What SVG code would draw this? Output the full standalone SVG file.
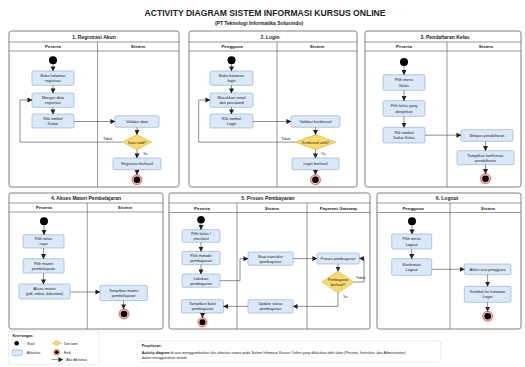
<svg xmlns="http://www.w3.org/2000/svg" width="525" height="367" viewBox="0 0 525 367">
<style>
text{font-family:"Liberation Sans",Arial,sans-serif;fill:#222}
.title{font-size:8.6px;font-weight:bold;text-anchor:middle}
.sub{font-size:5px;font-weight:bold;text-anchor:middle}
.ph{font-size:5px;font-weight:bold;text-anchor:middle}
.lh{font-size:4.4px;font-weight:bold;text-anchor:middle}
.t{font-size:3.9px;text-anchor:middle;fill:#222}
.lb{font-size:3.9px;fill:#222}
.panel{fill:#fff;stroke:#555;stroke-width:0.75}
.ln{stroke:#555;stroke-width:0.6;fill:none}
.box{fill:#dbe8f7;stroke:#86a9d3;stroke-width:0.6}
.dec{fill:#f8da6a;stroke:#cfac3c;stroke-width:0.6}
.st{fill:#000}
.endr{fill:#f6b9b9;stroke:#e05252;stroke-width:0.8}
.c{stroke:#333;stroke-width:0.55;fill:none;marker-end:url(#a)}
.note{fill:#fff;stroke:#c8c8c8;stroke-width:0.6;stroke-dasharray:1.2 0.8}
.sm{font-size:3.6px;fill:#222}
</style>
<defs>
<marker id="a" viewBox="0 0 6 6" refX="5.5" refY="3" markerWidth="5" markerHeight="5" markerUnits="userSpaceOnUse" orient="auto"><path d="M0,0 L6,3 L0,6 z" fill="#222"/></marker>
</defs>
<rect width="525" height="367" fill="#fff"/>
<text class="title" x="265" y="16">ACTIVITY DIAGRAM SISTEM INFORMASI KURSUS ONLINE</text>
<text class="sub" x="259" y="25">(PT Teknologi Informatika Solusindo)</text>

<!-- Panel 1 -->
<g id="panel1">
<rect class="panel" x="9" y="31" width="170" height="156" rx="2.5"/>
<line class="ln" x1="9" y1="42" x2="179" y2="42"/>
<line class="ln" x1="9" y1="51" x2="179" y2="51"/>
<line class="ln" x1="97.5" y1="42" x2="97.5" y2="187"/>
<text class="ph" x="94" y="38.5">1. Registrasi Akun</text>
<text class="lh" x="53" y="48.2">Peserta</text>
<text class="lh" x="138" y="48.2">Sistem</text>
</g>
<g id="p1-start"><circle class="st" cx="53" cy="60.3" r="4"/></g>
<g id="p1-buka"><rect class="box" x="32" y="71" width="42" height="14.3" rx="1.5"/><text class="t" x="53" y="77">Buka halaman</text><text class="t" x="53" y="82">registrasi</text></g>
<g id="p1-isi"><rect class="box" x="32" y="93" width="42" height="14.3" rx="1.5"/><text class="t" x="53" y="99">Mengisi data</text><text class="t" x="53" y="104">registrasi</text></g>
<g id="p1-klik"><rect class="box" x="32" y="114" width="42" height="14" rx="1.5"/><text class="t" x="53" y="120">Klik tombol</text><text class="t" x="53" y="125">Daftar</text></g>
<g id="p1-validasi"><rect class="box" x="115" y="115.7" width="44" height="11.6" rx="1.5"/><text class="t" x="137" y="122.8">Validasi data</text></g>
<g id="p1-dec"><polygon class="dec" points="137,134.6 151.5,142.1 137,149.6 122.5,142.1"/><text class="t" x="137" y="143.5" style="font-size:3.6px">Data valid?</text></g>
<g id="p1-ok"><rect class="box" x="113" y="158" width="48" height="11.7" rx="1.5"/><text class="t" x="137" y="165.2">Registrasi berhasil</text></g>
<g id="p1-end"><circle class="endr" cx="137" cy="179.7" r="5"/><circle class="st" cx="137" cy="179.7" r="3.3"/></g>

<!-- Panel 2 -->
<g id="panel2">
<rect class="panel" x="189" y="31" width="168" height="156" rx="2.5"/>
<line class="ln" x1="189" y1="42" x2="357" y2="42"/>
<line class="ln" x1="189" y1="51" x2="357" y2="51"/>
<line class="ln" x1="277" y1="42" x2="277" y2="187"/>
<text class="ph" x="270" y="38.5">2. Login</text>
<text class="lh" x="232" y="48.2">Pengguna</text>
<text class="lh" x="317" y="48.2">Sistem</text>
</g>
<g id="p2-start"><circle class="st" cx="231.5" cy="60.3" r="4"/></g>
<g id="p2-buka"><rect class="box" x="210" y="71" width="43" height="14.3" rx="1.5"/><text class="t" x="231.5" y="77">Buka halaman</text><text class="t" x="231.5" y="82">login</text></g>
<g id="p2-isi"><rect class="box" x="210" y="93" width="43" height="14.3" rx="1.5"/><text class="t" x="231.5" y="99">Masukkan email</text><text class="t" x="231.5" y="104">dan password</text></g>
<g id="p2-klik"><rect class="box" x="210" y="114" width="43" height="14" rx="1.5"/><text class="t" x="231.5" y="120">Klik tombol</text><text class="t" x="231.5" y="125">Login</text></g>
<g id="p2-validasi"><rect class="box" x="291" y="115.7" width="49" height="11.6" rx="1.5"/><text class="t" x="315.5" y="122.8">Validasi kredensial</text></g>
<g id="p2-dec"><polygon class="dec" points="315.5,134.6 336,142.1 315.5,149.6 295,142.1"/><text class="t" x="315.5" y="143.5" style="font-size:3.6px">Kredensial valid?</text></g>
<g id="p2-ok"><rect class="box" x="292" y="158" width="47" height="11.7" rx="1.5"/><text class="t" x="315.5" y="165.2">Login berhasil</text></g>
<g id="p2-end"><circle class="endr" cx="315.5" cy="179.7" r="5"/><circle class="st" cx="315.5" cy="179.7" r="3.3"/></g>

<!-- Panel 3 -->
<g id="panel3">
<rect class="panel" x="365" y="31" width="156" height="156" rx="2.5"/>
<line class="ln" x1="365" y1="42" x2="521" y2="42"/>
<line class="ln" x1="365" y1="51" x2="521" y2="51"/>
<line class="ln" x1="447" y1="42" x2="447" y2="187"/>
<text class="ph" x="445" y="38.5">3. Pendaftaran Kelas</text>
<text class="lh" x="404" y="48.2">Peserta</text>
<text class="lh" x="486" y="48.2">Sistem</text>
</g>
<g id="p3-start"><circle class="st" cx="404" cy="62" r="4"/></g>
<g id="p3-menu"><rect class="box" x="383" y="74.7" width="42" height="15.6" rx="1.5"/><text class="t" x="404" y="81.3">Pilih menu</text><text class="t" x="404" y="86.6">Kelas</text></g>
<g id="p3-pilih"><rect class="box" x="383" y="100.7" width="42" height="15.6" rx="1.5"/><text class="t" x="404" y="107.3">Pilih kelas yang</text><text class="t" x="404" y="112.6">diinginkan</text></g>
<g id="p3-klik"><rect class="box" x="383" y="127.3" width="42" height="15.7" rx="1.5"/><text class="t" x="404" y="133.9">Klik tombol</text><text class="t" x="404" y="139.2">Daftar Kelas</text></g>
<g id="p3-simpan"><rect class="box" x="461" y="129.7" width="52" height="11.6" rx="1.5"/><text class="t" x="487" y="136.8">Simpan pendaftaran</text></g>
<g id="p3-konf"><rect class="box" x="457" y="150.7" width="57" height="14" rx="1.5"/><text class="t" x="485.5" y="156.5">Tampilkan konfirmasi</text><text class="t" x="485.5" y="161.6">pendaftaran</text></g>
<g id="p3-end"><circle class="endr" cx="485.5" cy="178.7" r="5"/><circle class="st" cx="485.5" cy="178.7" r="3.3"/></g>

<!-- Panel 4 -->
<g id="panel4">
<rect class="panel" x="9" y="193" width="154" height="136" rx="2.5"/>
<line class="ln" x1="9" y1="203" x2="163" y2="203"/>
<line class="ln" x1="9" y1="212" x2="163" y2="212"/>
<line class="ln" x1="87.3" y1="203" x2="87.3" y2="329"/>
<text class="ph" x="86" y="200">4. Akses Materi Pembelajaran</text>
<text class="lh" x="44" y="209.3">Peserta</text>
<text class="lh" x="125" y="209.3">Sistem</text>
</g>
<g id="p4-start"><circle class="st" cx="44" cy="221.3" r="4"/></g>
<g id="p4-kelas"><rect class="box" x="23" y="234.7" width="41" height="13.3" rx="1.5"/><text class="t" x="43.5" y="240.3">Pilih kelas</text><text class="t" x="43.5" y="245.3">saya</text></g>
<g id="p4-materi"><rect class="box" x="23" y="258.7" width="41" height="14.3" rx="1.5"/><text class="t" x="43.5" y="264.7">Pilih materi</text><text class="t" x="43.5" y="269.7">pembelajaran</text></g>
<g id="p4-akses"><rect class="box" x="19" y="284" width="51" height="15" rx="1.5"/><text class="t" x="44.5" y="290.2">Akses materi</text><text class="t" x="44.5" y="295.4">(pdf, video, dokumen)</text></g>
<g id="p4-tampil"><rect class="box" x="100" y="285.3" width="47.3" height="15.4" rx="1.5"/><text class="t" x="123.6" y="291.7">Tampilkan materi</text><text class="t" x="123.6" y="296.9">pembelajaran</text></g>
<g id="p4-end"><circle class="endr" cx="124" cy="314" r="5"/><circle class="st" cx="124" cy="314" r="3.3"/></g>

<!-- Panel 5 -->
<g id="panel5">
<rect class="panel" x="169" y="193" width="201" height="136" rx="2.5"/>
<line class="ln" x1="169" y1="203" x2="370" y2="203"/>
<line class="ln" x1="169" y1="212.5" x2="370" y2="212.5"/>
<line class="ln" x1="237" y1="203" x2="237" y2="329"/>
<line class="ln" x1="307" y1="203" x2="307" y2="329"/>
<text class="ph" x="268" y="200">5. Proses Pembayaran</text>
<text class="lh" x="202" y="209.6">Peserta</text>
<text class="lh" x="272" y="209.6">Sistem</text>
<text class="lh" x="338.5" y="209.6">Payment Gateway</text>
</g>
<g id="p5-start"><circle class="st" cx="201" cy="219.7" r="3.8"/></g>
<g id="p5-checkout"><rect class="box" x="182" y="229.7" width="38" height="12.6" rx="1.5"/><text class="t" x="201" y="235">Pilih kelas /</text><text class="t" x="201" y="239.9">checkout</text></g>
<g id="p5-metode"><rect class="box" x="182" y="251.3" width="38" height="13.4" rx="1.5"/><text class="t" x="201" y="257">Pilih metode</text><text class="t" x="201" y="262">pembayaran</text></g>
<g id="p5-bayar"><rect class="box" x="182" y="274" width="38" height="13.3" rx="1.5"/><text class="t" x="201" y="279.7">Lakukan</text><text class="t" x="201" y="284.7">pembayaran</text></g>
<g id="p5-transaksi"><rect class="box" x="248" y="252" width="45" height="13.3" rx="1.5"/><text class="t" x="270.5" y="257.7">Buat transaksi</text><text class="t" x="270.5" y="262.7">pembayaran</text></g>
<g id="p5-proses"><rect class="box" x="317" y="253" width="42.3" height="11" rx="1.5"/><text class="t" x="338" y="259.8">Proses pembayaran</text></g>
<g id="p5-dec"><polygon class="dec" points="338,271.2 354,282 338,292.8 322,282"/><text class="t" x="338" y="281" style="font-size:3.6px">Pembayaran</text><text class="t" x="338" y="285.5" style="font-size:3.6px">berhasil?</text></g>
<g id="p5-update"><rect class="box" x="248" y="299.7" width="45" height="13.3" rx="1.5"/><text class="t" x="270.5" y="305.4">Update status</text><text class="t" x="270.5" y="310.4">pembayaran</text></g>
<g id="p5-bukti"><rect class="box" x="181.5" y="299.7" width="42" height="13.3" rx="1.5"/><text class="t" x="202.5" y="305.4">Tampilkan bukti</text><text class="t" x="202.5" y="310.4">pembayaran</text></g>
<g id="p5-end"><circle class="endr" cx="202.5" cy="322.3" r="4.6"/><circle class="st" cx="202.5" cy="322.3" r="3"/></g>

<!-- Panel 6 -->
<g id="panel6">
<rect class="panel" x="377" y="193" width="144" height="136" rx="2.5"/>
<line class="ln" x1="377" y1="203" x2="521" y2="203"/>
<line class="ln" x1="377" y1="212.5" x2="521" y2="212.5"/>
<line class="ln" x1="450" y1="203" x2="450" y2="329"/>
<text class="ph" x="447" y="200">6. Logout</text>
<text class="lh" x="413" y="209.6">Pengguna</text>
<text class="lh" x="488" y="209.6">Sistem</text>
</g>
<g id="p6-start"><circle class="st" cx="412" cy="221.3" r="4"/></g>
<g id="p6-menu"><rect class="box" x="391.7" y="234" width="40" height="15" rx="1.5"/><text class="t" x="411.7" y="240.3">Pilih menu</text><text class="t" x="411.7" y="245.5">Logout</text></g>
<g id="p6-konf"><rect class="box" x="391.7" y="258.7" width="40" height="16.6" rx="1.5"/><text class="t" x="411.7" y="265.8">Konfirmasi</text><text class="t" x="411.7" y="271">Logout</text></g>
<g id="p6-akhiri"><rect class="box" x="464.3" y="264" width="46.7" height="10.7" rx="1.5"/><text class="t" x="487.6" y="270.7">Akhiri sesi pengguna</text></g>
<g id="p6-kembali"><rect class="box" x="464.3" y="286.3" width="46.7" height="16" rx="1.5"/><text class="t" x="487.6" y="293">Kembali ke halaman</text><text class="t" x="487.6" y="298.2">Login</text></g>
<g id="p6-end"><circle class="endr" cx="487.7" cy="316.3" r="5"/><circle class="st" cx="487.7" cy="316.3" r="3.3"/></g>

<!-- Connectors -->
<g id="connectors">
<line class="c" x1="53" y1="64.3" x2="53" y2="71"/>
<line class="c" x1="53" y1="85.3" x2="53" y2="93"/>
<line class="c" x1="53" y1="107.3" x2="53" y2="114"/>
<line class="c" x1="74" y1="121.5" x2="115" y2="121.5"/>
<line class="c" x1="137" y1="127.3" x2="137" y2="134.6"/>
<polyline class="c" points="122.5,142.1 20,142.1 20,100 32,100"/>
<line class="c" x1="137" y1="149.6" x2="137" y2="158"/>
<line class="c" x1="137" y1="169.7" x2="137" y2="174.7"/>

<line class="c" x1="231.5" y1="64.3" x2="231.5" y2="71"/>
<line class="c" x1="231.5" y1="85.3" x2="231.5" y2="93"/>
<line class="c" x1="231.5" y1="107.3" x2="231.5" y2="114"/>
<line class="c" x1="253" y1="121.5" x2="291" y2="121.5"/>
<line class="c" x1="315.5" y1="127.3" x2="315.5" y2="134.6"/>
<polyline class="c" points="295,142.1 198.7,142.1 198.7,100 210,100"/>
<line class="c" x1="315.5" y1="149.6" x2="315.5" y2="158"/>
<line class="c" x1="315.5" y1="169.7" x2="315.5" y2="174.7"/>

<line class="c" x1="404" y1="66" x2="404" y2="74.7"/>
<line class="c" x1="404" y1="90.3" x2="404" y2="100.7"/>
<line class="c" x1="404" y1="116.3" x2="404" y2="127.3"/>
<line class="c" x1="425" y1="135.2" x2="461" y2="135.2"/>
<line class="c" x1="485.5" y1="141.3" x2="485.5" y2="150.7"/>
<line class="c" x1="485.5" y1="164.7" x2="485.5" y2="173.7"/>

<line class="c" x1="44" y1="225.3" x2="44" y2="234.7"/>
<line class="c" x1="43.5" y1="248" x2="43.5" y2="258.7"/>
<line class="c" x1="43.5" y1="273" x2="43.5" y2="284"/>
<line class="c" x1="70" y1="292" x2="100" y2="292"/>
<line class="c" x1="123.6" y1="300.7" x2="123.6" y2="309"/>

<line class="c" x1="201" y1="223.5" x2="201" y2="229.7"/>
<line class="c" x1="201" y1="242.3" x2="201" y2="251.3"/>
<line class="c" x1="201" y1="264.7" x2="201" y2="274"/>
<polyline class="c" points="220,280.7 240,280.7 240,258.7 248,258.7"/>
<line class="c" x1="293" y1="258.6" x2="317" y2="258.6"/>
<line class="c" x1="338" y1="264" x2="338" y2="271.2"/>
<polyline class="c" points="354,282 364,282 364,258.5 359.3,258.5"/>
<polyline class="c" points="338,292.8 338,306.4 293,306.4"/>
<line class="c" x1="248" y1="306.4" x2="223.5" y2="306.4"/>
<line class="c" x1="202.5" y1="313" x2="202.5" y2="317.7"/>

<line class="c" x1="412" y1="225.3" x2="412" y2="234"/>
<line class="c" x1="411.7" y1="249" x2="411.7" y2="258.7"/>
<line class="c" x1="431.7" y1="269.3" x2="464.3" y2="269.3"/>
<line class="c" x1="487.6" y1="274.7" x2="487.6" y2="286.3"/>
<line class="c" x1="487.6" y1="302.3" x2="487.6" y2="311.3"/>

<text class="lb" x="103" y="139.6">Tidak</text>
<text class="lb" x="143" y="154.5">Ya</text>
<text class="lb" x="281" y="139.6">Tidak</text>
<text class="lb" x="321" y="154.5">Ya</text>
<text class="lb" x="356" y="279">Tidak</text>
<text class="lb" x="343" y="298">Ya</text>
</g>

<!-- Legend -->
<g id="legend">
<rect class="note" x="8.3" y="331" width="90.7" height="33.3" rx="2"/>
<text class="sm" x="12.5" y="337" style="font-weight:bold">Keterangan:</text>
<circle cx="16.7" cy="343.3" r="2.2" fill="#000"/>
<text class="sm" x="25" y="344.6">: Start</text>
<polygon class="dec" points="56.7,340.8 60.7,343.2 56.7,345.6 52.7,343.2"/>
<text class="sm" x="62" y="344.6">: Decision</text>
<rect class="box" x="12.3" y="349.8" width="10" height="5.8" rx="1"/>
<text class="sm" x="25" y="354">: Aktivitas</text>
<circle class="endr" cx="56.7" cy="352.3" r="2.8"/><circle cx="56.7" cy="352.3" r="1.8" fill="#000"/>
<text class="sm" x="62" y="353.6">: End</text>
<line class="c" x1="51.5" y1="359.6" x2="63" y2="359.6"/>
<text class="sm" x="64.5" y="360.9">: Alur Aktivitas</text>
</g>

<!-- Explanation -->
<g id="explanation">
<rect class="note" x="137.3" y="341" width="303.4" height="21.3" rx="2"/>
<text class="sm" x="141.7" y="347" style="font-weight:bold">Penjelasan:</text>
<text class="sm" x="141.7" y="353.5"><tspan style="font-weight:bold">Activity diagram</tspan> di atas menggambarkan alur aktivitas utama pada Sistem Informasi Kursus Online yang dilakukan oleh aktor (Peserta, Instruktur, dan Administrator)</text>
<text class="sm" x="141.7" y="359.2">dalam menggunakan sistem.</text>
</g>
</svg>
